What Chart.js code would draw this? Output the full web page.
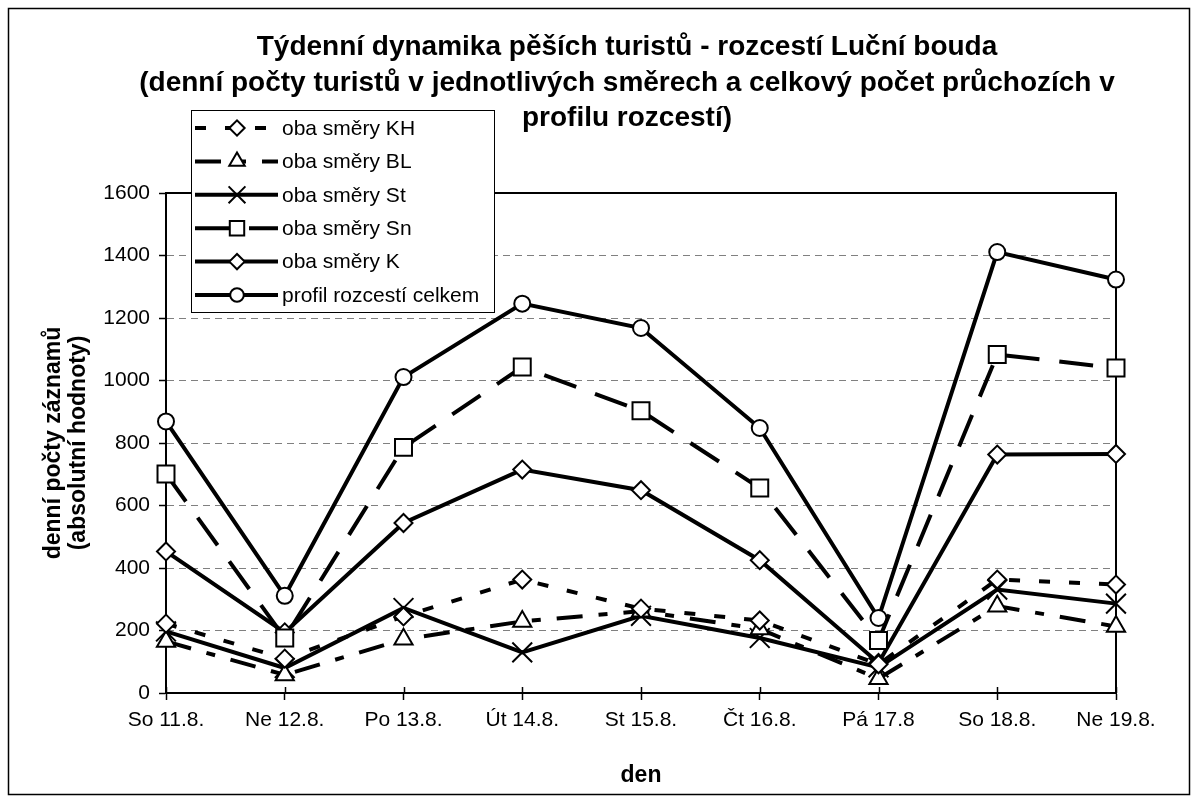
<!DOCTYPE html>
<html lang="cs">
<head>
<meta charset="utf-8">
<title>Týdenní dynamika pěších turistů</title>
<script src="https://cdn.jsdelivr.net/npm/chart.js@4.4.1/dist/chart.umd.min.js"></script>
<style>
  html, body { margin: 0; padding: 0; background: #fff; }
  #wrap { width: 1198px; height: 803px; position: relative; }
</style>
</head>
<body>
<div id="wrap"><canvas id="graf" width="1198" height="803"></canvas></div>
<script>
// kategorie (dny)
const dny = ['So 11.8.', 'Ne 12.8.', 'Po 13.8.', 'Út 14.8.', 'St 15.8.', 'Čt 16.8.', 'Pá 17.8', 'So 18.8.', 'Ne 19.8.'];

// denní počty v jednotlivých směrech
const smeryKH = [222, 110, 245, 363, 270, 232, 92, 363, 347];
const smeryBL = [165, 58, 172, 229, 262, 205, 46, 278, 213];
const smerySt = [197, 80, 272, 130, 247, 176, 82, 331, 286];
const smerySn = [701, 176, 786, 1043, 903, 656, 168, 1083, 1040];
const smeryK = [453, 194, 544, 715, 649, 425, 96, 763, 765];
const celkem = [869, 311, 1011, 1246, 1168, 848, 240, 1411, 1323];

// osa y
const osaYMin = 0;
const osaYMax = 1600;
const osaYKrok = 200;

const nazevGrafu = [
    'Týdenní dynamika pěších turistů - rozcestí Luční bouda',
    '(denní počty turistů v jednotlivých směrech a celkový počet průchozích v',
    'profilu rozcestí)'
];
const popisY = ['denní počty záznamů', '(absolutní hodnoty)'];
const popisX = 'den';

const pismo = "'Liberation Sans', Arial, sans-serif";

// pomocná funkce pro řadu
function rada(label, data, dash, styl, polomer) {
    return {
        label: label,
        data: data,
        borderColor: '#000',
        borderWidth: 4,
        borderDash: dash,
        pointStyle: styl,
        pointRadius: polomer,
        pointBorderWidth: 2,
        pointBackgroundColor: '#fff',
        pointBorderColor: '#000',
        tension: 0,
        fill: false
    };
}

// Nadpis a rámeček okolo celého grafu
const nadpisPlugin = {
    id: 'nadpis',
    afterDraw(chart) {
        const c = chart.ctx;
        c.save();
        c.strokeStyle = '#000';
        c.lineWidth = 1.5;
        c.strokeRect(8.5, 8.5, 1181, 786);
        c.fillStyle = '#000';
        c.font = 'bold 28px ' + pismo;
        c.textAlign = 'center';
        c.textBaseline = 'alphabetic';
        const radky = [55, 91, 126];
        nazevGrafu.forEach((t, i) => c.fillText(t, 627, radky[i]));
        c.restore();
    }
};

// Rámeček plochy grafu + značky osy x přes osu
const ramecekPlugin = {
    id: 'ramecek',
    beforeDatasetsDraw(chart) {
        const a = chart.chartArea;
        const c = chart.ctx;
        c.save();
        c.strokeStyle = '#000';
        c.lineWidth = 2;
        c.beginPath();
        c.moveTo(a.left, a.top);
        c.lineTo(a.right, a.top);
        c.lineTo(a.right, a.bottom);
        c.stroke();
        // značky nad osou x
        c.lineWidth = 1.5;
        const sx = chart.scales.x;
        sx.ticks.forEach((t, i) => {
            const px = Math.round(sx.getPixelForTick(i)) + 0.5;
            c.beginPath();
            c.moveTo(px, a.bottom - 6);
            c.lineTo(px, a.bottom);
            c.stroke();
        });
        c.restore();
    }
};

// Legenda uvnitř plochy grafu (jako v Excelu)
const legendaPlugin = {
    id: 'legenda',
    afterDraw(chart) {
        const c = chart.ctx;
        const x0 = 191, y0 = 110, w = 303, h = 202;
        c.save();
        c.fillStyle = '#fff';
        c.fillRect(x0, y0, w, h);
        c.strokeStyle = '#000';
        c.lineWidth = 1;
        c.strokeRect(x0 + 0.5, y0 + 0.5, w, h);
        chart.data.datasets.forEach((ds, i) => {
            const y = 128 + i * 33.4;
            c.save();
            c.strokeStyle = '#000';
            c.lineWidth = ds.borderWidth;
            c.setLineDash(ds.borderDash || []);
            c.beginPath();
            c.moveTo(195, y);
            c.lineTo(278, y);
            c.stroke();
            c.restore();
            c.fillStyle = '#fff';
            c.strokeStyle = '#000';
            c.lineWidth = ds.pointBorderWidth;
            // v legendě jsou značky o něco menší
            Chart.helpers.drawPoint(c, {
                pointStyle: ds.pointStyle,
                radius: ds.pointRadius * 0.85,
                rotation: 0,
                borderWidth: ds.pointBorderWidth
            }, 237, y);
            c.fillStyle = '#000';
            c.font = '21px ' + pismo;
            c.textAlign = 'left';
            c.textBaseline = 'middle';
            c.fillText(ds.label, 282, y + 1);
        });
        c.restore();
    }
};

const graf = new Chart(document.getElementById('graf').getContext('2d'), {
    type: 'line',
    data: {
        labels: dny,
        datasets: [
            rada('oba směry KH', smeryKH, [11, 19], 'rectRot', 9),
            rada('oba směry BL', smeryBL, [26, 16, 9, 16], 'triangle', 10.5),
            rada('oba směry St', smerySt, [], 'crossRot', 14),
            rada('oba směry Sn', smerySn, [34, 20], 'rect', 12),
            rada('oba směry K', smeryK, [], 'rectRot', 9),
            rada('profil rozcestí celkem', celkem, [], 'circle', 8)
        ]
    },
    options: {
        responsive: false,
        animation: false,
        events: [],
        layout: { padding: { top: 193, right: 82, left: 0, bottom: 0 } },
        plugins: {
            legend: { display: false },
            title: { display: false },
            tooltip: { enabled: false }
        },
        scales: {
            x: {
                offset: false,
                afterFit(scale) { scale.height = 110; },
                grid: {
                    drawOnChartArea: false,
                    drawTicks: true,
                    tickLength: 7,
                    tickColor: '#000',
                    tickWidth: 1.5
                },
                border: { display: true, color: '#000', width: 2 },
                ticks: {
                    color: '#000',
                    font: { family: pismo, size: 21 },
                    padding: 8,
                    maxRotation: 0,
                    autoSkip: false
                },
                title: {
                    display: true,
                    text: popisX,
                    color: '#000',
                    font: { family: pismo, size: 23, weight: 'bold' },
                    padding: { top: 0, bottom: 14 }
                }
            },
            y: {
                min: osaYMin,
                max: osaYMax,
                afterFit(scale) { scale.width = 166; },
                grid: {
                    color: '#808080',
                    lineWidth: 1,
                    tickLength: 7,
                    tickColor: '#000',
                    tickWidth: 1.5
                },
                border: { display: true, color: '#000', width: 2, dash: [7, 5] },
                ticks: {
                    stepSize: osaYKrok,
                    color: '#000',
                    font: { family: pismo, size: 21 },
                    padding: 9,
                    callback: (v) => String(v)
                },
                title: {
                    display: true,
                    text: popisY,
                    color: '#000',
                    font: { family: pismo, size: 23, weight: 'bold', lineHeight: 1.09 },
                    padding: { top: 41, bottom: 0 }
                }
            }
        }
    },
    plugins: [ramecekPlugin, nadpisPlugin, legendaPlugin]
});
</script>
</body>
</html>
